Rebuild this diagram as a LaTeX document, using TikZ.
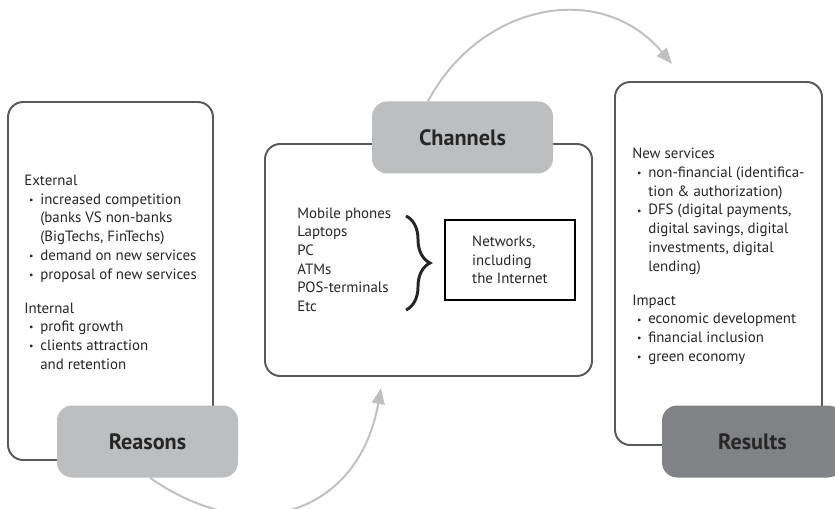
\documentclass[tikz,border=0pt]{standalone}
\usepackage{fontspec}
\setmainfont{PT Sans}
\usepackage{tikz}
\usetikzlibrary{decorations.pathreplacing,shapes,arrows.meta,positioning}
\usetikzlibrary{calc}
\definecolor{boxline}{RGB}{88,89,91}
\definecolor{labelgray}{RGB}{188,190,192}
\definecolor{labeldark}{RGB}{128,130,133}
\definecolor{arcgray}{RGB}{190,192,194}
\newcommand{\bitem}{\makebox[0.4cm][l]{\hspace{0.12cm}\raisebox{0.12ex}{\scriptsize\textbullet}}}
\newcommand{\bpad}{\makebox[0.4cm]{}}

\begin{document}
\begin{tikzpicture}[scale=1,
    mainbox/.style={draw=boxline, line width=1.4pt, rounded corners=0.38cm, fill=white, inner sep=0pt},
    labelbox/.style={fill=labelgray, rounded corners=0.38cm, minimum width=4.525cm, minimum height=1.8cm, font=\fontsize{15.8}{18}\selectfont\bfseries, text=black!85},
    bodytext/.style={align=left, anchor=north west, inner sep=0pt, font=\fontsize{10.6}{13.3}\selectfont, text=black!85},
    flowarc/.style={arcgray, line width=1.4pt, -{Triangle[length=0.4cm,width=0.32cm]}}]
            \useasboundingbox (0,0) rectangle (20.875,12.7);

            % big boxes
            \node[mainbox, minimum width=5.125cm, minimum height=8.95cm] (reasonsbox) at (2.7625,5.675) {};
            \node[mainbox, minimum width=8.175cm, minimum height=5.8cm] (channelsbox) at (10.7125,6.2) {};
            \node[mainbox, minimum width=5.175cm, minimum height=9.075cm] (resultsbox) at (17.9625,6.1125) {};

            % labels
            \node[labelbox] (reasons) at (3.6875,1.6625) {Reasons};
            \node[labelbox] (channels) at (11.5625,9.2625) {Channels};
            \node[labelbox, fill=labeldark] (results) at (18.8125,1.6625) {Results};

            % texts
            \node[bodytext] (reasonstext) at (0.6,8.33) {External\\
                \bitem increased competition\\
                \bpad (banks VS non-banks\\
                \bpad (BigTechs, FinTechs)\\
                \bitem demand on new services\\
                \bitem proposal of new services\\[11pt]
                Internal\\
                \bitem profit growth\\
                \bitem clients attraction\\
                \bpad and retention};
            \node[bodytext] (devices) at (7.425,7.52) {Mobile phones\\ Laptops\\ PC\\ ATMs\\ POS-terminals\\ Etc};
            \node[draw=black, line width=1.4pt, minimum width=3.25cm, minimum height=2cm, align=left,
                  font=\fontsize{10.6}{13.3}\selectfont, text=black!85] (networks) at (12.75,6.2) {Networks,\\ including\\ the Internet};
            \node[bodytext] (resultstext) at (15.8,9.0) {New services\\
                \bitem non-financial (identifica-\\
                \bpad tion \& authorization)\\
                \bitem DFS (digital payments,\\
                \bpad digital savings, digital\\
                \bpad investments, digital\\
                \bpad lending)\\[11pt]
                Impact\\
                \bitem economic development\\
                \bitem financial inclusion\\
                \bitem green economy};

            % brace
            \draw[decorate, decoration={brace, amplitude=0.6cm}, line width=2.1pt, black!85]
                ([xshift=-0.95cm]networks.west |- 0,7.3) -- ([xshift=-0.95cm]networks.west |- 0,4.95);

            % arcs
            \draw[flowarc] ([xshift=0.0625cm]reasons.south) to[out=-35, in=-100, looseness=1.3] ([xshift=-1.1875cm, yshift=-0.275cm]channelsbox.south);
            \draw[flowarc] ([xshift=-0.8625cm]channels.north) to[out=62, in=130, looseness=1.15] ([xshift=-1.1625cm, yshift=0.425cm]resultsbox.north);
\end{tikzpicture}
\end{document}
